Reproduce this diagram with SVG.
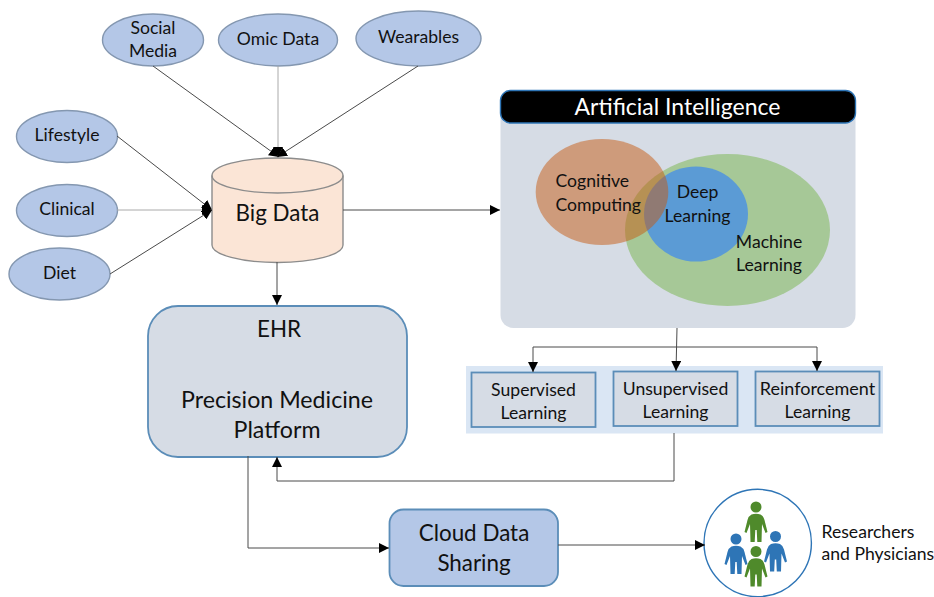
<svg xmlns="http://www.w3.org/2000/svg" xmlns:xlink="http://www.w3.org/1999/xlink" width="934" height="597" viewBox="0 0 934 597">
<style>
text{font-family:"Lato","Carlito","Open Sans",sans-serif;fill:#111;text-anchor:middle}
.s{font-size:17.6px}
.m{font-size:17.6px}
.l{font-size:22.4px}
.p{font-size:23.2px}
.st{text-anchor:start}
.oval{fill:#B4C7E7;stroke:#8497B0;stroke-width:1.4}
.c{fill:none;stroke:#4a4a4a;stroke-width:1}
.g{stroke:#aaa}
.box{fill:#D6DCE5;stroke:#5B8DB8;stroke-width:1.8}
.blue{fill:#B4C7E7;stroke:#5B8DB8;stroke-width:1.8}
</style>
<defs>
<marker id="a" markerWidth="11" markerHeight="10" refX="10" refY="5" orient="auto" markerUnits="userSpaceOnUse"><path d="M0 0L10 5L0 10Z" fill="#000"/></marker>
<path id="p" d="M-4.500 7.500Q0 6 4.500 7.500Q7.500 9 8.500 13L11.500 25L9.500 26L6 17L5.500 35H1.300L.7 23H-.7L-1.300 35H-5.500L-6 17L-9.500 26L-11.500 25L-8.500 13Q-7.500 9 -4.500 7.500Z M5.500 0A5.500 5.500 0 1 1 -5.500 0A5.500 5.500 0 1 1 5.500 0Z"/>
</defs>
<g id="social-media"><ellipse class="oval" cx="153" cy="40" rx="50.500" ry="26"/><text class="s" x="153" y="34">Social</text><text class="s" x="153" y="57">Media</text></g>
<g id="omic-data"><ellipse class="oval" cx="278" cy="40" rx="59.500" ry="26"/><text class="s" x="278" y="45">Omic Data</text></g>
<g id="wearables"><ellipse class="oval" cx="418.500" cy="38.500" rx="62.500" ry="27.500"/><text class="s" x="418.500" y="43">Wearables</text></g>
<g id="lifestyle"><ellipse class="oval" cx="67" cy="136.500" rx="50.500" ry="26"/><text class="s" x="67" y="141">Lifestyle</text></g>
<g id="clinical"><ellipse class="oval" cx="67" cy="210.500" rx="50.500" ry="26"/><text class="s" x="67" y="214.500">Clinical</text></g>
<g id="diet"><ellipse class="oval" cx="59.500" cy="274" rx="50.500" ry="26"/><text class="s" x="59.500" y="279">Diet</text></g>
<g id="big-data">
<path d="M212 175.500A65.500 17.500 0 0 1 343 175.500V245A65.500 17.500 0 0 1 212 245Z" fill="#FBE5D6" stroke="#8c8c8c" stroke-width="1.400"/>
<path d="M212 175.500A65.500 17.500 0 0 0 343 175.500" fill="none" stroke="#8c8c8c" stroke-width="1.400"/>
<text class="l" x="277.500" y="221">Big Data</text>
</g>
<g id="artificial-intelligence">
<rect x="500.500" y="95" width="355" height="233" rx="13" fill="#D6DCE5"/>
<ellipse cx="727.500" cy="230" rx="102.500" ry="76" fill="#A6C897"/>
<ellipse cx="696" cy="214" rx="52" ry="47.500" fill="#5B9BD5"/>
<ellipse cx="602" cy="192" rx="66.300" ry="53" fill="#C55A11" fill-opacity=".5"/>
<rect x="500.500" y="90.500" width="355" height="32.500" rx="10" fill="#000" stroke="#2E75B6" stroke-width="1.400"/>
<text x="677.500" y="115" font-size="23" style="fill:#fff">Artificial Intelligence</text>
<text class="m st" x="555.500" y="187">Cognitive</text>
<text class="m st" x="555.500" y="211">Computing</text>
<text class="m" x="697.500" y="198">Deep</text>
<text class="m" x="697.500" y="222">Learning</text>
<text class="m" x="769" y="248">Machine</text>
<text class="m" x="769" y="271">Learning</text>
</g>
<g id="learning-types">
<rect x="466" y="366" width="417" height="67.500" fill="#DAE6F4"/>
<g id="supervised"><rect class="box" x="471.500" y="372.500" width="124" height="54.500"/><text class="m" x="533.500" y="395.500">Supervised</text><text class="m" x="533.500" y="418.500">Learning</text></g>
<g id="unsupervised"><rect class="box" x="613.500" y="371.500" width="124" height="54.500"/><text class="m" x="675.500" y="394.500">Unsupervised</text><text class="m" x="675.500" y="417.500">Learning</text></g>
<g id="reinforcement"><rect class="box" x="755.500" y="371.500" width="124" height="54.500"/><text x="817.500" y="394.500" font-size="18">Reinforcement</text><text class="m" x="817.500" y="417.500">Learning</text></g>
</g>
<g id="ehr"><rect class="box" x="148" y="306" width="259" height="151" rx="30"/><text class="l" x="279" y="337">EHR</text><text class="p" x="277" y="408">Precision Medicine</text><text class="p" x="277" y="438">Platform</text></g>
<g id="cloud-data-sharing"><rect class="blue" x="389.500" y="509.500" width="168.500" height="76.500" rx="14"/><text class="l" x="474" y="541">Cloud Data</text><text class="l" x="474" y="571">Sharing</text></g>
<g id="researchers">
<circle cx="757.700" cy="543" r="53.700" fill="#fff" stroke="#2E75B6" stroke-width="1.400"/>
<use xlink:href="#p" href="#p" x="756" y="507" fill="#4F8A2B"/>
<use xlink:href="#p" href="#p" x="736" y="539" fill="#2E75B6"/>
<use xlink:href="#p" href="#p" x="775.500" y="536.500" fill="#2E75B6"/>
<use xlink:href="#p" href="#p" x="756" y="551.500" fill="#4F8A2B"/>
<text class="s st" x="821.500" y="538">Researchers</text>
<text class="s st" x="821.500" y="560">and Physicians</text>
</g>
<g id="connectors">
<path class="c" d="M153 66L279 157" marker-end="url(#a)"/>
<path class="c g" d="M278 66V157" marker-end="url(#a)"/>
<path class="c" d="M418 66L277 157" marker-end="url(#a)"/>
<path class="c" d="M117 136L212 210" marker-end="url(#a)"/>
<path class="c g" d="M117 210H212" marker-end="url(#a)"/>
<path class="c" d="M110 274L212 210" marker-end="url(#a)"/>
<path class="c" d="M343 210H500" marker-end="url(#a)"/>
<path class="c" d="M277 262V305" marker-end="url(#a)"/>
<path class="c" d="M677 328L676 371" marker-end="url(#a)"/>
<path class="c" d="M676 347H533V372" marker-end="url(#a)"/>
<path class="c" d="M676 347H817V371" marker-end="url(#a)"/>
<path class="c" d="M674 433V481H277V457" marker-end="url(#a)"/>
<path class="c" d="M248 456V548H389" marker-end="url(#a)"/>
<path class="c" d="M558 545H705" marker-end="url(#a)"/>
</g>
</svg>
